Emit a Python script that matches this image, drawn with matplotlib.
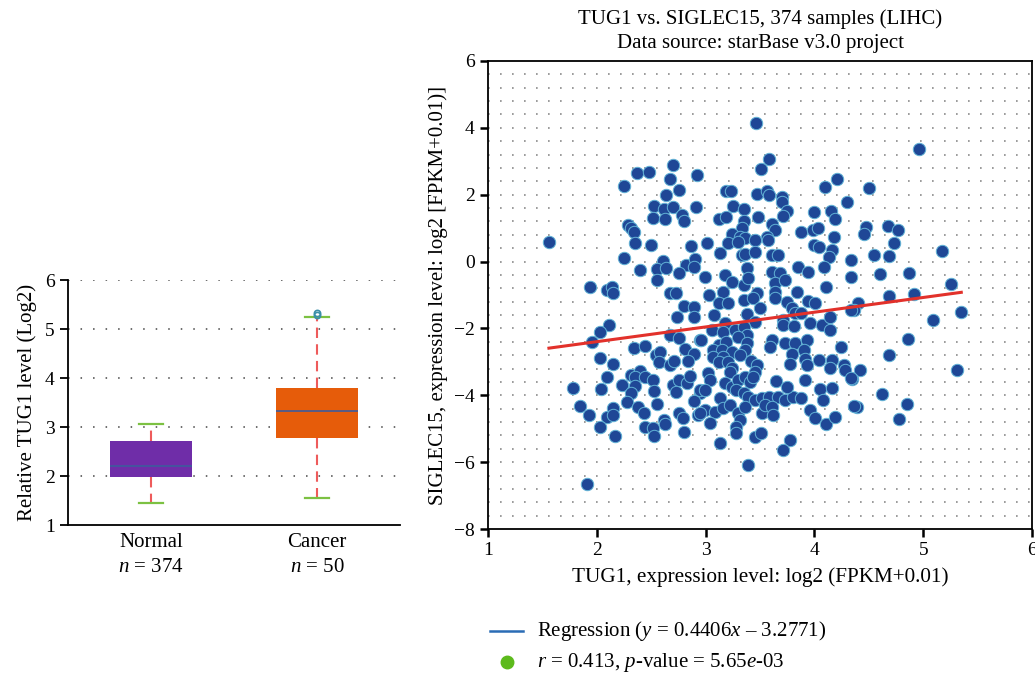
import matplotlib
matplotlib.use("Agg")
import matplotlib.pyplot as plt
from matplotlib.lines import Line2D

# ---------------- fonts ----------------
plt.rcParams['font.family'] = ['Liberation Serif', 'DejaVu Serif']
plt.rcParams['mathtext.fontset'] = 'custom'
plt.rcParams['mathtext.rm'] = 'Liberation Serif'
plt.rcParams['mathtext.it'] = 'Liberation Serif:italic'
plt.rcParams['axes.unicode_minus'] = True

# ---------------- data: boxplot ----------------
groups = ['Normal', 'Cancer']
group_n = [374, 50]
box_q1 = [1.98, 2.78]
box_med = [2.20, 3.32]
box_q3 = [2.72, 3.80]
box_whislo = [1.45, 1.55]
box_whishi = [3.07, 5.25]
box_fliers = [[], [5.29, 5.33]]
box_colors = ['#6f2da8', '#e65c0a']

# ---------------- data: scatter ----------------
tug1_expr = [
    2.70, 2.37, 2.48, 2.67, 2.92, 2.25, 2.76, 2.64, 2.53, 2.62, 2.70, 2.91, 2.52, 2.63, 2.78, 2.80,
    2.29, 2.31, 2.34, 1.56, 2.35, 2.50, 2.87, 2.25, 2.61, 2.40, 2.55, 2.64, 2.82, 2.90, 2.89, 2.76,
    2.55, 1.94, 2.09, 2.14, 2.15, 2.67, 2.73, 2.80, 2.89,
    3.46, 3.58, 3.51, 4.21, 4.10, 3.19, 3.23, 3.47, 3.56, 3.58, 3.70, 3.70, 4.30, 3.25, 3.35, 3.75,
    3.71, 4.00, 4.15, 4.19, 3.12, 3.19, 3.35, 3.48, 3.33, 3.61, 3.64, 3.88, 3.99, 4.03, 3.24, 3.32,
    3.36, 3.45, 3.56, 3.57, 4.18, 3.01, 3.21, 3.30, 4.00, 4.04, 4.16, 3.13, 3.33, 3.36, 3.45, 3.61,
    3.67, 4.13, 4.34, 3.38, 3.85, 4.09, 2.99, 3.18, 3.24, 3.35, 3.39, 3.61, 3.68, 3.64, 3.73, 3.94,
    4.34, 4.11, 3.64, 3.16, 3.03, 3.84, 3.47, 3.12, 3.21, 3.35, 3.44, 3.64, 3.75, 3.94, 4.01, 3.50,
    4.96, 4.50, 4.47, 4.46, 4.68, 4.77, 4.73, 5.17, 4.55, 4.69, 4.60, 4.87, 5.26, 4.69, 4.92, 4.40,
    5.35, 4.36, 5.09, 4.86, 4.69, 4.42, 4.35, 5.31, 4.62, 4.39, 4.85, 4.78,
    2.74, 2.89, 2.11, 2.03, 1.96, 2.67, 2.76, 2.95, 2.34, 2.44, 2.81, 2.54, 2.58, 2.57, 2.89, 2.84,
    2.67, 2.71, 2.03, 2.15, 2.09, 1.78, 2.04, 2.23, 2.31, 2.40, 2.35, 2.44, 2.52, 2.35, 2.31, 2.28,
    2.53, 2.70, 2.76, 2.83, 2.73, 2.86, 2.95, 2.89, 1.85, 1.93, 2.09, 2.15, 2.15, 2.03, 2.17, 2.38,
    2.43, 2.55, 2.44, 2.52, 2.53, 2.62, 2.63, 2.76, 2.79, 2.80, 2.93, 1.91,
    3.79, 3.82, 3.88, 3.08, 3.38, 3.45, 3.71, 3.71, 3.81, 3.96, 4.07, 4.14, 4.14, 4.34, 3.06, 3.18,
    3.16, 3.27, 3.35, 3.38, 3.30, 2.96, 3.12, 3.19, 3.38, 3.36, 3.07, 3.15, 3.24, 3.32, 3.07, 3.16,
    3.12, 3.21, 3.24, 3.22, 3.42, 3.47, 3.45, 3.61, 3.59, 3.73, 3.82, 3.93, 3.79, 3.78, 3.90, 3.91,
    3.93, 4.04, 4.16, 4.14, 4.24, 4.27, 4.28, 4.34, 4.36, 3.02, 3.04, 2.95, 2.99, 3.18, 3.24, 3.30,
    3.36, 3.41, 3.44, 3.28, 3.35, 3.39, 3.45, 3.52, 3.58, 3.67, 3.73, 3.80, 3.88, 3.65, 3.75, 3.91,
    4.05, 4.16, 4.08, 3.13, 2.99, 2.95, 3.09, 3.16, 3.22, 3.04, 3.30, 3.36, 3.32, 3.28, 3.28, 3.52,
    3.55, 3.61, 3.62, 3.96, 4.01, 4.11, 4.19, 3.45, 3.51, 3.13, 3.78, 3.71, 3.39,
]
siglec15_expr = [
    2.89, 2.64, 2.69, 2.47, 2.59, 2.27, 2.13, 1.99, 1.67, 1.57, 1.63, 1.62, 1.30, 1.27, 1.38, 1.20,
    1.09, 0.99, 0.89, 0.58, 0.55, 0.51, 0.47, 0.11, 0.03, -0.24, -0.22, -0.20, -0.10, 0.07, -0.17, -0.35,
    -0.56, -0.75, -0.85, -0.77, -0.95, -0.93, -0.93, -1.33, -1.37,
    4.14, 3.06, 2.76, 2.48, 2.24, 2.12, 2.12, 2.02, 2.12, 1.99, 1.92, 1.79, 1.78, 1.66, 1.56, 1.52,
    1.36, 1.47, 1.52, 1.28, 1.26, 1.34, 1.21, 1.34, 1.00, 1.12, 0.93, 0.87, 0.93, 1.00, 0.83, 0.75,
    0.70, 0.65, 0.75, 0.65, 0.73, 0.57, 0.55, 0.60, 0.50, 0.45, 0.35, 0.25, 0.20, 0.23, 0.30, 0.20,
    0.20, 0.15, 0.05, -0.20, -0.15, -0.15, -0.45, -0.40, -0.60, -0.70, -0.50, -0.30, -0.35, -0.65, -0.55, -0.30,
    -0.45, -0.75, -0.90, -0.90, -1.00, -0.90, -0.95, -1.23, -1.25, -1.15, -1.10, -1.10, -1.20, -1.17, -1.23, -1.40,
    3.36, 2.20, 1.04, 0.82, 1.06, 0.93, 0.57, 0.33, 0.21, 0.18, -0.36, -0.35, -0.68, -1.03, -0.98, -1.23,
    -1.50, -1.45, -1.75, -2.32, -2.79, -3.24, -3.52, -3.24, -3.97, -4.34, -4.27, -4.72,
    -1.65, -1.65, -1.90, -2.10, -2.40, -2.20, -2.28, -2.35, -2.58, -2.53, -2.63, -2.79, -2.71, -2.99, -2.76, -2.97,
    -3.09, -2.97, -2.87, -3.06, -3.44, -3.79, -3.80, -3.69, -3.39, -3.26, -3.44, -3.44, -3.54, -3.72, -3.94, -4.19,
    -3.87, -3.69, -3.54, -3.64, -3.89, -3.42, -3.94, -4.17, -4.31, -4.59, -4.66, -4.39, -4.59, -4.94, -5.21, -4.34,
    -4.54, -4.26, -4.94, -4.99, -5.21, -4.74, -4.86, -4.54, -4.69, -5.09, -4.59, -6.65,
    -1.40, -1.53, -1.55, -1.60, -1.57, -1.80, -1.75, -1.90, -1.93, -1.85, -1.90, -1.65, -2.05, -1.45, -2.05, -1.85,
    -2.10, -2.05, -1.95, -2.20, -2.25, -2.35, -2.50, -2.40, -2.45, -2.65, -2.65, -2.65, -2.70, -2.79, -2.84, -2.84,
    -2.99, -2.99, -3.19, -3.29, -2.97, -3.09, -3.29, -2.35, -2.55, -2.45, -2.45, -2.35, -2.75, -3.05, -2.65, -2.90,
    -3.09, -2.94, -2.94, -3.19, -2.55, -3.09, -3.24, -3.49, -4.32, -3.34, -3.54, -3.84, -3.84, -3.64, -3.74, -3.54,
    -3.44, -3.59, -3.44, -3.84, -3.94, -4.04, -4.14, -4.09, -4.04, -4.06, -4.14, -4.04, -4.09, -3.56, -3.76, -3.54,
    -3.82, -3.79, -4.14, -4.09, -4.44, -4.54, -4.49, -4.39, -4.29, -4.84, -4.54, -4.34, -4.74, -4.94, -5.14, -4.54,
    -4.29, -4.34, -4.59, -4.44, -4.69, -4.86, -4.66, -5.24, -5.14, -5.44, -5.34, -5.64, -6.09,
]
reg_slope = 0.4406
reg_intercept = -3.2771
reg_r = 0.413
reg_p = '5.65e-03'

fig = plt.figure(figsize=(10.35, 6.77), dpi=100)

# ================= left: boxplot =================
axb = fig.add_axes([0.0657, 0.2245, 0.3208, 0.3619])
stats = []
for i in range(len(groups)):
    stats.append(dict(q1=box_q1[i], med=box_med[i], q3=box_q3[i],
                      whislo=box_whislo[i], whishi=box_whishi[i],
                      fliers=box_fliers[i]))
positions = [0.5, 1.5]
bp = axb.bxp(stats, positions=positions, widths=0.49, patch_artist=True,
             showcaps=True,
             boxprops=dict(linewidth=0),
             medianprops=dict(color='#3d5b9c', linewidth=1.2),
             whiskerprops=dict(color='#ee5b5b', linewidth=1.5, linestyle=(0, (5, 3))),
             capprops=dict(color='#7cc142', linewidth=1.6),
             flierprops=dict(marker='o', markersize=4.5, markerfacecolor='none',
                             markeredgecolor='#3a8fa8', markeredgewidth=1.2))
for patch, c in zip(bp['boxes'], box_colors):
    patch.set_facecolor(c)
    patch.set_edgecolor(c)
for cap in bp['caps']:
    x0, x1 = cap.get_xdata()
    xc = (x0 + x1) / 2
    cap.set_xdata([xc - 0.07, xc + 0.07])
axb.set_xlim(0, 2)
axb.set_ylim(1, 6)
axb.set_yticks([1, 2, 3, 4, 5, 6])
axb.set_xticks(positions)
axb.set_xticklabels([f"{g}\n$n$ = {n}" for g, n in zip(groups, group_n)], fontsize=15,
                    linespacing=1.4)
for y in [2, 3, 4, 5, 6]:
    axb.axhline(y, color='#444444', linewidth=1.1, linestyle=(0, (1, 7.2)), zorder=0)
axb.spines['top'].set_visible(False)
axb.spines['right'].set_visible(False)
for s in ['left', 'bottom']:
    axb.spines[s].set_linewidth(1.3)
axb.tick_params(axis='y', labelsize=14, length=6, width=1.3, direction='out')
axb.tick_params(axis='x', length=0, pad=6)
axb.set_ylabel('Relative TUG1 level (Log2)', fontsize=15, labelpad=6)

# ================= right: scatter =================
axs = fig.add_axes([0.4715, 0.2186, 0.5256, 0.6913])
axs.set_xlim(1, 6)
axs.set_ylim(-8, 6)
k = 0
while -8 + 0.4 * k < 6:
    yy = -8 + 0.4 * k
    if yy > -8:
        axs.axhline(yy, color='#8a8a8a', linewidth=1.2, linestyle=(0, (1, 6.2)), zorder=0)
    k += 1
axs.scatter(tug1_expr, siglec15_expr, s=80, color='#1f4796', edgecolors='#62b3d6',
            linewidths=0.7, zorder=3)
x_line = [min(tug1_expr), max(tug1_expr)]
y_line = [reg_slope * v + reg_intercept for v in x_line]
axs.plot(x_line, y_line, color='#e2312b', linewidth=2.2, zorder=4)
axs.set_xticks([1, 2, 3, 4, 5, 6])
axs.set_yticks([-8, -6, -4, -2, 0, 2, 4, 6])
axs.tick_params(labelsize=14, length=6, width=1.8, direction='out')
for s in axs.spines.values():
    s.set_linewidth(1.3)
axs.set_xlabel('TUG1, expression level: log2 (FPKM+0.01)', fontsize=15.2, labelpad=6)
axs.set_ylabel('SIGLEC15, expression level: log2 [FPKM+0.01)]', fontsize=15, labelpad=4)
axs.set_title('TUG1 vs. SIGLEC15, 374 samples (LIHC)\nData source: starBase v3.0 project',
              fontsize=15, linespacing=1.4, pad=9)

# ---------------- legend below ----------------
fig.add_artist(Line2D([490 / 1035, 523 / 1035], [1 - 631 / 677, 1 - 631 / 677],
                      color='#2a6cb5', linewidth=1.8))
fig.add_artist(Line2D([507 / 1035], [1 - 662 / 677], marker='o', markersize=9,
                      color='#5cba1c', linestyle='none'))
fig.text(537 / 1035, 1 - 631 / 677,
         f"Regression ($y$ = {reg_slope}$x$ \u2013 {abs(reg_intercept)})",
         fontsize=15, va='center', ha='left')
fig.text(537 / 1035, 1 - 662 / 677,
         f"$r$ = {reg_r}, $p$-value = 5.65$e$-03",
         fontsize=15, va='center', ha='left')

fig.savefig('out.png', dpi=100)
